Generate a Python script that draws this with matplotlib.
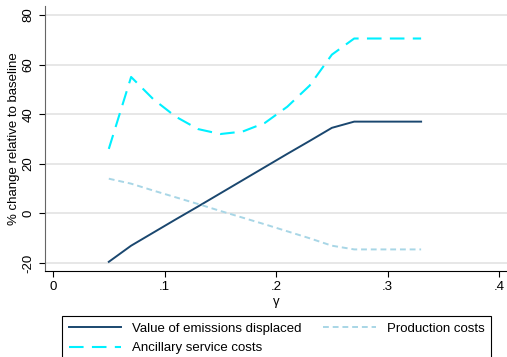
import matplotlib.pyplot as plt

plt.rcParams['font.family'] = ['Liberation Sans', 'DejaVu Sans']

# gamma values
gamma = [0.05, 0.07, 0.09, 0.11, 0.13, 0.15, 0.17, 0.19, 0.21, 0.23, 0.25, 0.27, 0.29, 0.31, 0.33]

# % change relative to baseline
emissions = [-19.5, -13.0, -7.7, -2.4, 2.8, 8.1, 13.4, 18.7, 24.0, 29.2, 34.5, 37.0, 37.0, 37.0, 37.0]
production = [14.0, 12.0, 9.2, 6.5, 3.8, 1.0, -1.7, -4.4, -7.2, -10.0, -13.0, -14.5, -14.5, -14.5, -14.5]
ancillary = [26.0, 55.0, 46.0, 39.0, 34.0, 32.0, 33.0, 36.5, 43.0, 51.5, 64.0, 70.5, 70.5, 70.5, 70.5]

xticks = [0, 0.1, 0.2, 0.3, 0.4]
xtick_labels = ["0", ".1", ".2", ".3", ".4"]
yticks = [-20, 0, 20, 40, 60, 80]

fig = plt.figure(figsize=(5.07, 3.57), dpi=100)
ax = fig.add_axes([45 / 507, 86 / 357, 462 / 507, 265 / 357])

l1, = ax.plot(gamma, emissions, color='#1a476f', lw=1.4, label="Value of emissions displaced")
l2, = ax.plot(gamma, production, color='#a8d6e6', lw=1.4, ls=(0, (3, 2)), label="Production costs")
l3, = ax.plot(gamma, ancillary, color='#00f0ff', lw=1.5, ls=(0, (7, 4)), label="Ancillary service costs")

ax.set_xlim(-0.0072, 0.407)
ax.set_ylim(-23.2, 83.6)
ax.set_xticks(xticks)
ax.set_xticklabels(xtick_labels)
ax.set_yticks(yticks)
ax.set_yticklabels([str(v) for v in yticks], rotation=90, va='center')
ax.tick_params(labelsize=9.5, length=4, direction='out')
ax.grid(axis='y', color='#e3e3e3', lw=1.2)
ax.set_axisbelow(True)
for s in ['top', 'right']:
    ax.spines[s].set_visible(False)
ax.spines['left'].set_color('#666666')
ax.spines['bottom'].set_color('black')

ax.set_xlabel("γ", fontsize=9.5, labelpad=2)
ax.set_ylabel("% change relative to baseline", fontsize=9.5, labelpad=2)

# column-major fill: col 1 = emissions, ancillary; col 2 = production
leg = fig.legend([l1, l3, l2],
                 ["Value of emissions displaced", "Ancillary service costs", "Production costs"],
                 ncol=2, loc='upper left', bbox_to_anchor=(62 / 507, -0.2, 429 / 507, 0.315),
                 mode='expand', borderaxespad=0, fontsize=9.5, handlelength=4,
                 borderpad=0.5, frameon=True, fancybox=False, edgecolor='black',
                 framealpha=1, labelspacing=0.55, columnspacing=1.5)
leg.get_frame().set_linewidth(0.8)

fig.savefig("out.png", dpi=100)
